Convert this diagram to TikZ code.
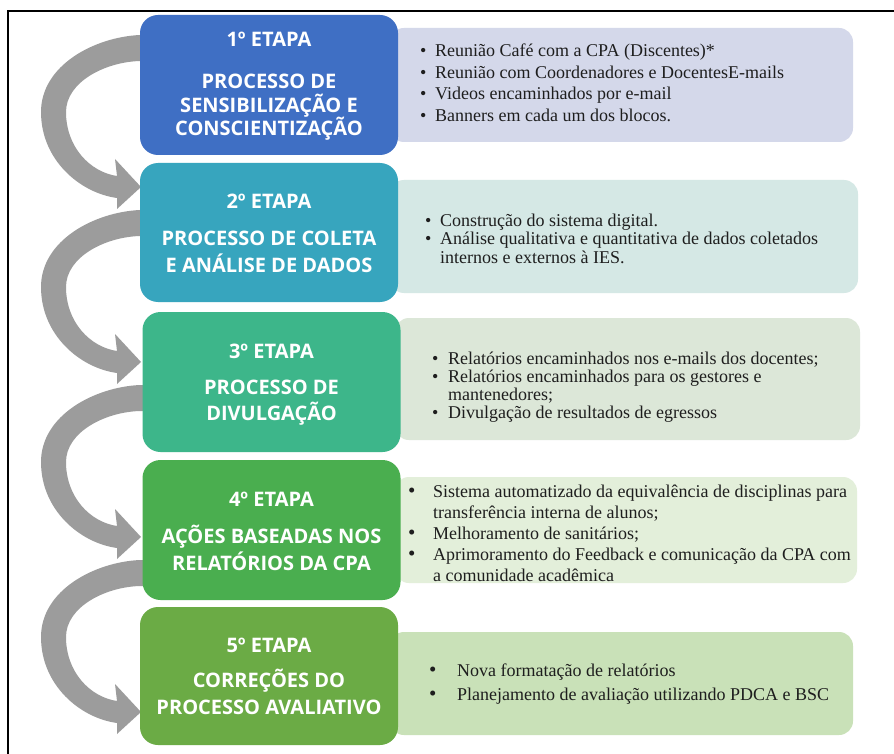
\documentclass[tikz,border=0pt]{standalone}
\usepackage{fontspec}
\setmainfont{Liberation Serif}
\newfontfamily\hfont{Open Sans}
\definecolor{sA}{HTML}{3F6FC4}
\definecolor{sB}{HTML}{37A5BE}
\definecolor{sC}{HTML}{3DB68A}
\definecolor{sD}{HTML}{4AAE4F}
\definecolor{sE}{HTML}{6BAB45}
\definecolor{tA}{HTML}{D4D8EA}
\definecolor{tB}{HTML}{D5E8E5}
\definecolor{tC}{HTML}{DCE7D8}
\definecolor{tD}{HTML}{E3EFDA}
\definecolor{tE}{HTML}{C9E1B8}
\definecolor{agray}{HTML}{9C9C9C}
\definecolor{ink}{HTML}{1E1E1E}
\newcommand\bitem[2]{\par\noindent\hangindent=#1\hangafter=1\makebox[#1][l]{\textbullet}#2\par}
\newcommand\bigitem[2]{\par\noindent\hangindent=#1\hangafter=1\makebox[#1][l]{\fontsize{21}{18}\selectfont\textbullet}#2\par}
\newcommand\grayarrow[1]{%
  \fill[agray] (150,#1) -- (140,#1) .. controls (95,#1+2) and (41,#1+30) .. (41,#1+77)
    .. controls (41,#1+125) and (80,#1+158) .. (117,#1+163) -- (117,#1+174) -- (141,#1+152)
    -- (115,#1+124) -- (117,#1+141) .. controls (90,#1+137) and (66,#1+112) .. (66,#1+77)
    .. controls (66,#1+47) and (105,#1+27) .. (140,#1+26) -- (150,#1+26) -- cycle;}
\tikzset{
  stagebox/.style={rounded corners=18pt, minimum width=258pt, minimum height=140pt, inner sep=0pt},
  infobox/.style={rounded corners=14pt, inner sep=0pt},
  stagetxt/.style={anchor=base, inner sep=0pt, text=white, font=\hfont\bfseries\fontsize{20}{20}\selectfont},
  listtxt/.style={anchor=base west, inner sep=0pt, text=ink, font=\fontsize{18}{18}\selectfont}
}
\begin{document}
\begin{tikzpicture}[x=1pt,y=-1pt]
\useasboundingbox (0,0) rectangle (894,754);
\fill[white] (0,0) rectangle (894,754);
\draw[line width=2pt] (8,754) -- (8,11) -- (894,11);
% info boxes
\node[infobox, fill=tA, minimum width=463pt, minimum height=114pt] (t1) at (621.5,85) {};
\node[infobox, fill=tB, minimum width=468pt, minimum height=113pt] (t2) at (624,236.5) {};
\node[infobox, fill=tC, minimum width=465pt, minimum height=122pt] (t3) at (627.5,379) {};
\node[infobox, fill=tD, minimum width=462pt, minimum height=106pt] (t4) at (626,530) {};
\node[infobox, fill=tE, minimum width=463pt, minimum height=103pt] (t5) at (621.5,683.5) {};
% arrows
\grayarrow{35}
\grayarrow{210}
\grayarrow{385}
\grayarrow{560}
% stage boxes
\node[stagebox, fill=sA] (s1) at (269,85) {};
\node[stagebox, fill=sB, minimum height=139pt] (s2) at (269,232.5) {};
\node[stagebox, fill=sC] (s3) at (271.5,382) {};
\node[stagebox, fill=sD] (s4) at (271.5,530) {};
\node[stagebox, fill=sE, minimum height=138pt] (s5) at (269,676) {};
% stage texts
\node[stagetxt] (h1) at (269,47) {1º ETAPA};
\node[stagetxt] (b1) at (269,89) {\parbox[t]{256pt}{\centering\fontsize{20}{23.5}\selectfont PROCESSO DE\\SENSIBILIZAÇÃO E\\CONSCIENTIZAÇÃO}};
\node[stagetxt] (h2) at (269,209) {2º ETAPA};
\node[stagetxt] (b2) at (269,245) {\parbox[t]{256pt}{\centering\fontsize{20}{27}\selectfont PROCESSO DE COLETA\\E ANÁLISE DE DADOS}};
\node[stagetxt] (h3) at (271.5,358) {3º ETAPA};
\node[stagetxt] (b3) at (271.5,394) {\parbox[t]{256pt}{\centering\fontsize{20}{26}\selectfont PROCESSO DE\\DIVULGAÇÃO}};
\node[stagetxt] (h4) at (271.5,506) {4º ETAPA};
\node[stagetxt] (b4) at (271.5,543) {\parbox[t]{256pt}{\centering\fontsize{20}{27}\selectfont AÇÕES BASEADAS NOS\\RELATÓRIOS DA CPA}};
\node[stagetxt] (h5) at (269,652) {5º ETAPA};
\node[stagetxt] (b5) at (269,687) {\parbox[t]{256pt}{\centering\fontsize{20}{27}\selectfont CORREÇÕES DO\\PROCESSO AVALIATIVO}};
% lists
\node[listtxt] (l1) at (420,57) {\parbox[t]{420pt}{\fontsize{18}{21.5}\selectfont
\bitem{15pt}{Reunião Café com a CPA (Discentes)*}
\bitem{15pt}{Reunião com Coordenadores e DocentesE-mails}
\bitem{15pt}{Videos encaminhados por e-mail}
\bitem{15pt}{Banners em cada um dos blocos.}}};
\node[listtxt] (l2) at (425,226) {\parbox[t]{420pt}{\fontsize{18}{18.5}\selectfont
\bitem{15pt}{Construção do sistema digital.}
\bitem{15pt}{Análise qualitativa e quantitativa de dados coletados\\internos e externos à IES.}}};
\node[listtxt] (l3) at (432,364) {\parbox[t]{420pt}{\fontsize{18}{18}\selectfont
\bitem{16pt}{Relatórios encaminhados nos e-mails dos docentes;}
\bitem{16pt}{Relatórios encaminhados para os gestores e\\mantenedores;}
\bitem{16pt}{Divulgação de resultados de egressos}}};
\node[listtxt] (l4) at (408,497) {\parbox[t]{445pt}{\fontsize{18}{21}\selectfont
\bigitem{25pt}{Sistema automatizado da equivalência de disciplinas para\\transferência interna de alunos;}
\bigitem{25pt}{Melhoramento de sanitários;}
\bigitem{25pt}{Aprimoramento do Feedback e comunicação da CPA com\\a comunidade acadêmica}}};
\node[listtxt] (l5) at (429,676) {\parbox[t]{420pt}{\fontsize{18}{24}\selectfont
\bigitem{28pt}{Nova formatação de relatórios}
\bigitem{28pt}{Planejamento de avaliação utilizando PDCA e BSC}}};
\end{tikzpicture}
\end{document}
